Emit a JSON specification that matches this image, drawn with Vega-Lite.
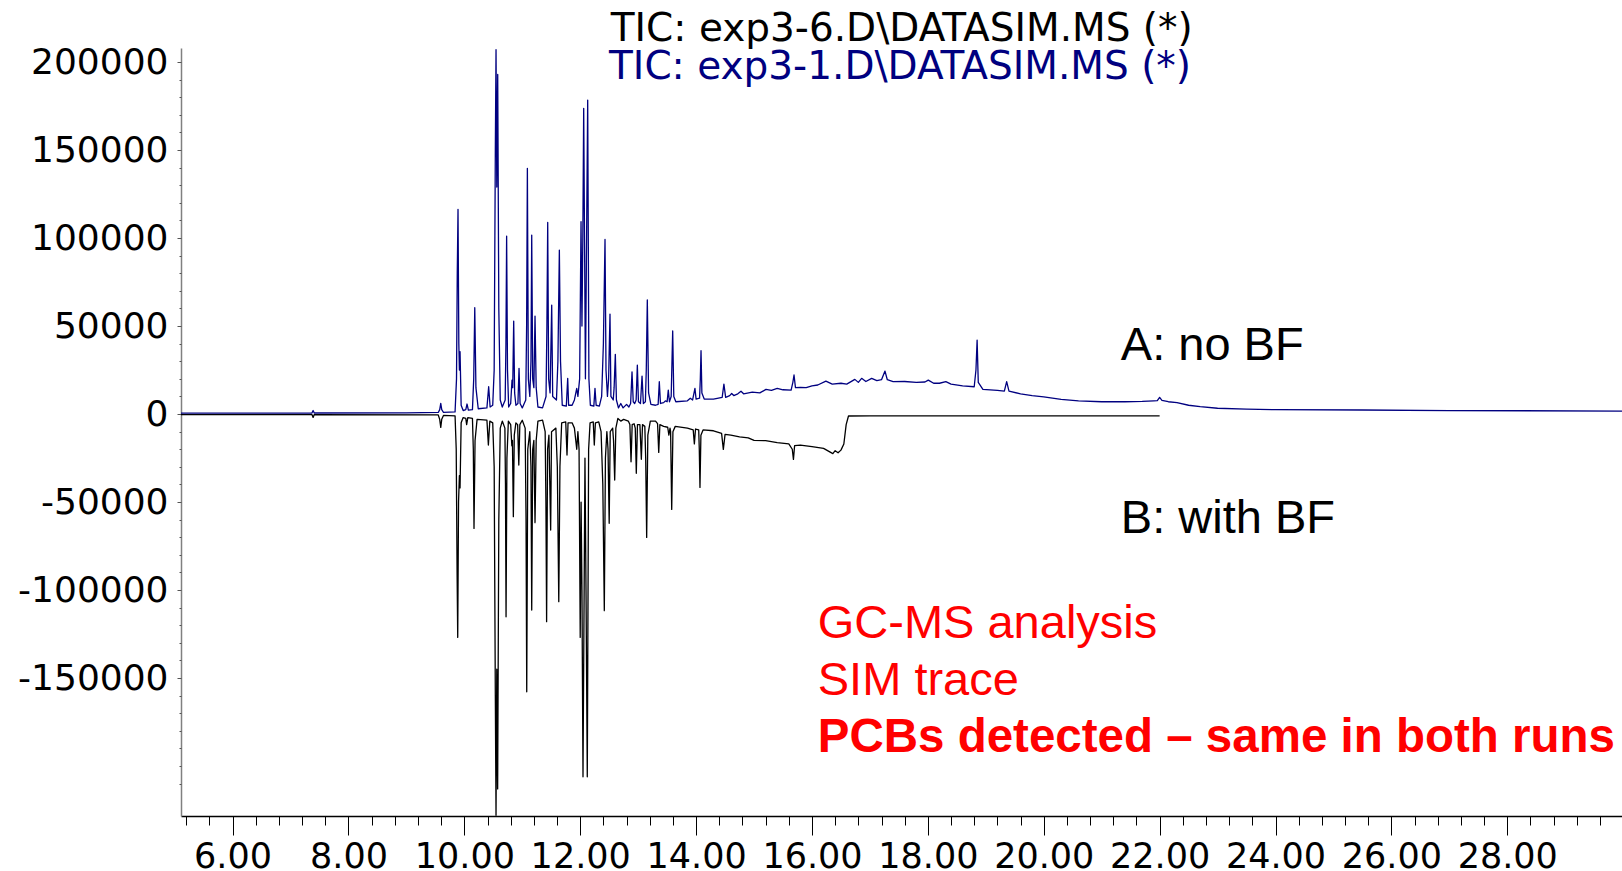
{
  "$schema": "https://vega.github.io/schema/vega-lite/v6.json",
  "width": 1441,
  "height": 768,
  "autosize": {"type": "none"},
  "padding": {"left": 181, "top": 48, "right": 0, "bottom": 55},
  "background": "white",
  "config": {"view": {"stroke": null}, "axis": {"grid": false}},
  "datasets": {
    "A": [
      {"t":5.11,"v":500},{"t":7.0,"v":500},{"t":7.37,"v":600},{"t":7.39,"v":2000},{"t":7.41,"v":600},{"t":9.0,"v":700},{"t":9.55,"v":900},{"t":9.575,"v":2500},{"t":9.593,"v":6100},{"t":9.61,"v":2500},{"t":9.64,"v":1000},{"t":9.84,"v":1200},{"t":9.865,"v":20000},{"t":9.878,"v":80000},{"t":9.891,"v":116300},{"t":9.905,"v":40000},{"t":9.915,"v":25000},{"t":9.926,"v":35400},{"t":9.945,"v":5000},{"t":9.98,"v":2000},{"t":10.025,"v":2500},{"t":10.047,"v":5700},{"t":10.07,"v":2200},{"t":10.14,"v":2500},{"t":10.162,"v":20000},{"t":10.18,"v":60400},{"t":10.2,"v":15000},{"t":10.24,"v":3000},{"t":10.39,"v":3500},{"t":10.42,"v":15500},{"t":10.445,"v":4000},{"t":10.49,"v":5000},{"t":10.515,"v":25000},{"t":10.535,"v":150000},{"t":10.547,"v":207000},{"t":10.56,"v":129000},{"t":10.576,"v":193000},{"t":10.595,"v":60000},{"t":10.62,"v":8000},{"t":10.655,"v":4000},{"t":10.705,"v":8000},{"t":10.718,"v":40000},{"t":10.73,"v":101100},{"t":10.745,"v":25000},{"t":10.765,"v":4000},{"t":10.8,"v":6000},{"t":10.823,"v":19300},{"t":10.835,"v":15000},{"t":10.852,"v":52800},{"t":10.868,"v":12000},{"t":10.89,"v":5000},{"t":10.925,"v":6000},{"t":10.944,"v":26000},{"t":10.962,"v":6000},{"t":11.0,"v":3500},{"t":11.06,"v":8000},{"t":11.075,"v":50000},{"t":11.088,"v":139600},{"t":11.105,"v":20000},{"t":11.13,"v":10000},{"t":11.15,"v":30000},{"t":11.163,"v":101700},{"t":11.18,"v":20000},{"t":11.2,"v":15000},{"t":11.22,"v":55700},{"t":11.24,"v":15000},{"t":11.27,"v":4000},{"t":11.35,"v":3500},{"t":11.41,"v":10000},{"t":11.425,"v":50000},{"t":11.439,"v":108900},{"t":11.455,"v":20000},{"t":11.48,"v":12000},{"t":11.508,"v":61900},{"t":11.525,"v":10000},{"t":11.59,"v":8000},{"t":11.615,"v":30000},{"t":11.64,"v":93200},{"t":11.66,"v":30000},{"t":11.69,"v":5000},{"t":11.76,"v":4500},{"t":11.784,"v":20300},{"t":11.8,"v":5000},{"t":11.86,"v":5000},{"t":11.9,"v":8000},{"t":11.94,"v":14600},{"t":11.96,"v":10000},{"t":11.99,"v":20000},{"t":12.014,"v":109300},{"t":12.03,"v":50000},{"t":12.045,"v":100000},{"t":12.06,"v":173700},{"t":12.09,"v":20000},{"t":12.11,"v":100000},{"t":12.129,"v":178400},{"t":12.15,"v":20000},{"t":12.175,"v":5000},{"t":12.235,"v":4500},{"t":12.255,"v":14600},{"t":12.275,"v":5000},{"t":12.33,"v":4500},{"t":12.37,"v":10000},{"t":12.4,"v":40000},{"t":12.428,"v":99200},{"t":12.445,"v":25000},{"t":12.47,"v":10000},{"t":12.49,"v":20000},{"t":12.514,"v":56800},{"t":12.53,"v":10000},{"t":12.57,"v":8000},{"t":12.585,"v":15000},{"t":12.606,"v":33900},{"t":12.625,"v":8000},{"t":12.66,"v":3500},{"t":12.7,"v":6000},{"t":12.74,"v":3500},{"t":12.8,"v":5500},{"t":12.84,"v":4000},{"t":12.87,"v":6000},{"t":12.894,"v":24000},{"t":12.915,"v":7000},{"t":12.94,"v":6000},{"t":12.965,"v":8000},{"t":12.986,"v":27800},{"t":13.005,"v":7000},{"t":13.04,"v":6000},{"t":13.067,"v":21600},{"t":13.09,"v":6000},{"t":13.125,"v":7000},{"t":13.14,"v":25000},{"t":13.158,"v":64800},{"t":13.18,"v":12000},{"t":13.22,"v":5500},{"t":13.3,"v":5000},{"t":13.345,"v":5500},{"t":13.365,"v":18400},{"t":13.385,"v":6000},{"t":13.44,"v":6500},{"t":13.47,"v":7500},{"t":13.5,"v":7000},{"t":13.52,"v":13600},{"t":13.54,"v":7000},{"t":13.57,"v":10000},{"t":13.596,"v":47200},{"t":13.615,"v":10000},{"t":13.65,"v":7000},{"t":13.85,"v":7500},{"t":13.9,"v":9000},{"t":13.94,"v":8000},{"t":13.98,"v":14600},{"t":14.0,"v":8500},{"t":14.06,"v":9000},{"t":14.073,"v":20000},{"t":14.085,"v":36000},{"t":14.1,"v":12000},{"t":14.14,"v":8500},{"t":14.3,"v":8500},{"t":14.45,"v":9500},{"t":14.48,"v":17000},{"t":14.51,"v":9500},{"t":14.58,"v":10500},{"t":14.614,"v":11700},{"t":14.65,"v":10500},{"t":14.72,"v":11500},{"t":14.775,"v":13000},{"t":14.82,"v":11500},{"t":14.97,"v":12500},{"t":15.1,"v":12000},{"t":15.206,"v":14000},{"t":15.3,"v":13500},{"t":15.4,"v":14600},{"t":15.5,"v":13800},{"t":15.64,"v":13600},{"t":15.67,"v":18000},{"t":15.69,"v":22200},{"t":15.715,"v":15000},{"t":15.8,"v":15200},{"t":15.9,"v":15000},{"t":16.0,"v":16000},{"t":16.1,"v":16500},{"t":16.24,"v":18750},{"t":16.35,"v":17000},{"t":16.5,"v":17500},{"t":16.6,"v":17000},{"t":16.74,"v":19700},{"t":16.8,"v":18000},{"t":16.857,"v":20300},{"t":16.93,"v":18500},{"t":17.03,"v":20300},{"t":17.12,"v":19000},{"t":17.2,"v":19500},{"t":17.26,"v":24400},{"t":17.3,"v":19500},{"t":17.4,"v":18400},{"t":17.6,"v":18500},{"t":17.8,"v":18000},{"t":17.95,"v":18200},{"t":18.007,"v":19300},{"t":18.1,"v":17500},{"t":18.2,"v":17500},{"t":18.31,"v":18400},{"t":18.4,"v":17000},{"t":18.6,"v":16000},{"t":18.8,"v":15500},{"t":18.83,"v":25000},{"t":18.85,"v":42000},{"t":18.87,"v":18000},{"t":18.95,"v":14000},{"t":19.2,"v":13500},{"t":19.32,"v":13000},{"t":19.36,"v":18400},{"t":19.4,"v":13000},{"t":19.6,"v":11500},{"t":19.8,"v":10500},{"t":20.0,"v":9800},{"t":20.3,"v":8300},{"t":20.6,"v":7500},{"t":21.0,"v":7000},{"t":21.4,"v":7000},{"t":21.7,"v":7200},{"t":21.9,"v":7500},{"t":21.96,"v":7600},{"t":22.0,"v":9500},{"t":22.04,"v":7800},{"t":22.15,"v":7000},{"t":22.3,"v":6500},{"t":22.5,"v":5000},{"t":22.7,"v":4200},{"t":23.0,"v":3300},{"t":23.5,"v":2800},{"t":24.0,"v":2500},{"t":25.5,"v":2300},{"t":27.0,"v":2000},{"t":29.98,"v":1700}
    ],
    "B": [
      {"t":5.11,"v":-300},{"t":7.37,"v":-300},{"t":7.39,"v":-1900},{"t":7.41,"v":-300},{"t":9.55,"v":-500},{"t":9.575,"v":-3000},{"t":9.593,"v":-7600},{"t":9.61,"v":-3000},{"t":9.64,"v":-800},{"t":9.84,"v":-1000},{"t":9.86,"v":-20000},{"t":9.875,"v":-90000},{"t":9.886,"v":-126900},{"t":9.9,"v":-50000},{"t":9.915,"v":-35000},{"t":9.926,"v":-42000},{"t":9.945,"v":-5000},{"t":9.98,"v":-2000},{"t":10.025,"v":-2500},{"t":10.04,"v":-6000},{"t":10.06,"v":-2000},{"t":10.14,"v":-2500},{"t":10.155,"v":-20000},{"t":10.167,"v":-65000},{"t":10.185,"v":-15000},{"t":10.22,"v":-3000},{"t":10.39,"v":-3500},{"t":10.415,"v":-17600},{"t":10.44,"v":-4000},{"t":10.49,"v":-5000},{"t":10.515,"v":-30000},{"t":10.535,"v":-160000},{"t":10.547,"v":-228000},{"t":10.56,"v":-145000},{"t":10.575,"v":-213000},{"t":10.595,"v":-60000},{"t":10.62,"v":-8000},{"t":10.655,"v":-4000},{"t":10.7,"v":-8000},{"t":10.71,"v":-40000},{"t":10.72,"v":-115200},{"t":10.735,"v":-25000},{"t":10.76,"v":-4000},{"t":10.8,"v":-6000},{"t":10.82,"v":-18000},{"t":10.83,"v":-15000},{"t":10.846,"v":-58300},{"t":10.862,"v":-12000},{"t":10.89,"v":-5000},{"t":10.92,"v":-6000},{"t":10.94,"v":-29000},{"t":10.958,"v":-6000},{"t":11.0,"v":-3500},{"t":11.05,"v":-8000},{"t":11.065,"v":-60000},{"t":11.077,"v":-157800},{"t":11.095,"v":-20000},{"t":11.13,"v":-10000},{"t":11.15,"v":-30000},{"t":11.163,"v":-111400},{"t":11.18,"v":-20000},{"t":11.2,"v":-15000},{"t":11.22,"v":-61700},{"t":11.24,"v":-15000},{"t":11.27,"v":-4000},{"t":11.35,"v":-3500},{"t":11.395,"v":-10000},{"t":11.408,"v":-50000},{"t":11.42,"v":-118000},{"t":11.437,"v":-20000},{"t":11.46,"v":-12000},{"t":11.49,"v":-65900},{"t":11.505,"v":-10000},{"t":11.58,"v":-8000},{"t":11.605,"v":-30000},{"t":11.63,"v":-106600},{"t":11.65,"v":-30000},{"t":11.68,"v":-5000},{"t":11.75,"v":-4500},{"t":11.772,"v":-23300},{"t":11.79,"v":-5000},{"t":11.86,"v":-5000},{"t":11.9,"v":-8000},{"t":11.94,"v":-20000},{"t":11.96,"v":-10000},{"t":11.98,"v":-20000},{"t":12.0,"v":-126900},{"t":12.015,"v":-50000},{"t":12.03,"v":-100000},{"t":12.048,"v":-206100},{"t":12.082,"v":-25000},{"t":12.1,"v":-100000},{"t":12.122,"v":-206100},{"t":12.145,"v":-20000},{"t":12.17,"v":-5000},{"t":12.225,"v":-4500},{"t":12.243,"v":-17600},{"t":12.262,"v":-5000},{"t":12.32,"v":-4500},{"t":12.36,"v":-10000},{"t":12.39,"v":-40000},{"t":12.416,"v":-111700},{"t":12.435,"v":-25000},{"t":12.46,"v":-10000},{"t":12.48,"v":-20000},{"t":12.5,"v":-62100},{"t":12.518,"v":-10000},{"t":12.56,"v":-8000},{"t":12.575,"v":-15000},{"t":12.595,"v":-37500},{"t":12.615,"v":-8000},{"t":12.65,"v":-2500},{"t":12.7,"v":-4000},{"t":12.75,"v":-3000},{"t":12.83,"v":-4000},{"t":12.857,"v":-6000},{"t":12.877,"v":-27100},{"t":12.897,"v":-6000},{"t":12.93,"v":-5500},{"t":12.95,"v":-8000},{"t":12.968,"v":-33700},{"t":12.988,"v":-6000},{"t":13.03,"v":-6000},{"t":13.055,"v":-25700},{"t":13.075,"v":-6000},{"t":13.115,"v":-7000},{"t":13.13,"v":-25000},{"t":13.147,"v":-70100},{"t":13.167,"v":-12000},{"t":13.21,"v":-4000},{"t":13.3,"v":-4000},{"t":13.335,"v":-5500},{"t":13.355,"v":-21800},{"t":13.375,"v":-6000},{"t":13.44,"v":-7000},{"t":13.51,"v":-7500},{"t":13.53,"v":-12000},{"t":13.55,"v":-8000},{"t":13.56,"v":-10000},{"t":13.579,"v":-54200},{"t":13.6,"v":-10000},{"t":13.64,"v":-7000},{"t":13.85,"v":-8000},{"t":13.95,"v":-9000},{"t":13.97,"v":-17000},{"t":13.99,"v":-8500},{"t":14.045,"v":-9000},{"t":14.055,"v":-20000},{"t":14.067,"v":-41700},{"t":14.083,"v":-12000},{"t":14.12,"v":-9000},{"t":14.3,"v":-9500},{"t":14.44,"v":-11000},{"t":14.47,"v":-20100},{"t":14.5,"v":-11500},{"t":14.6,"v":-12000},{"t":14.75,"v":-13000},{"t":14.9,"v":-13500},{"t":15.0,"v":-15000},{"t":15.2,"v":-15100},{"t":15.4,"v":-16200},{"t":15.6,"v":-17000},{"t":15.66,"v":-20000},{"t":15.68,"v":-25800},{"t":15.7,"v":-18000},{"t":15.8,"v":-17600},{"t":16.0,"v":-18500},{"t":16.2,"v":-19500},{"t":16.36,"v":-22500},{"t":16.4,"v":-20800},{"t":16.45,"v":-22000},{"t":16.5,"v":-20500},{"t":16.55,"v":-17000},{"t":16.59,"v":-6000},{"t":16.63,"v":-1100},{"t":17.0,"v":-1000},{"t":22.0,"v":-1000}
    ],
    "one": [{"k": 1}]
  },
  "layer": [
    {
      "data": {"name": "B"},
      "mark": {"type": "line", "color": "#000000", "strokeWidth": 1.3, "strokeJoin": "round"},
      "encoding": {
        "x": {"field": "t", "type": "quantitative", "scale": {"domain": [5.11, 29.98], "nice": false, "zero": false},
          "axis": {"orient": "bottom", "values": [6,8,10,12,14,16,18,20,22,24,26,28], "format": ".2f", "title": null, "grid": false,
            "labelFont": "DejaVu Sans", "labelFontSize": 35, "labelColor": "#000000", "labelPadding": 4, "labelOverlap": false, "labelFlush": false,
            "tickSize": 19, "tickColor": "#000000", "tickWidth": 1, "domainColor": "#000000", "domainWidth": 1.5}},
        "y": {"field": "v", "type": "quantitative", "scale": {"domain": [-228400, 208000], "nice": false, "zero": false},
          "axis": {"orient": "left", "values": [-150000,-100000,-50000,0,50000,100000,150000,200000], "labelExpr": "'' + datum.value", "title": null, "grid": false,
            "labelFont": "DejaVu Sans", "labelFontSize": 36, "labelColor": "#000000", "labelPadding": 9, "labelOverlap": false, "labelFlush": false,
            "tickSize": 4, "tickColor": "#555555", "tickWidth": 1, "domainColor": "#808080", "domainWidth": 1.5}}
      }
    },
    {
      "data": {"name": "A"},
      "mark": {"type": "line", "color": "#000080", "strokeWidth": 1.3, "strokeJoin": "round"},
      "encoding": {
        "x": {"field": "t", "type": "quantitative",
          "axis": {"orient": "bottom", "values": [5.2,5.6,6.0,6.4,6.8,7.2,7.6,8.0,8.4,8.8,9.2,9.6,10.0,10.4,10.8,11.2,11.6,12.0,12.4,12.8,13.2,13.6,14.0,14.4,14.8,15.2,15.6,16.0,16.4,16.8,17.2,17.6,18.0,18.4,18.8,19.2,19.6,20.0,20.4,20.8,21.2,21.6,22.0,22.4,22.8,23.2,23.6,24.0,24.4,24.8,25.2,25.6,26.0,26.4,26.8,27.2,27.6,28.0,28.4,28.8,29.2,29.6],
            "labels": false, "domain": false, "title": null, "grid": false, "tickSize": 9, "tickColor": "#000000", "tickWidth": 1}},
        "y": {"field": "v", "type": "quantitative",
          "axis": {"orient": "left", "values": [-210000,-200000,-190000,-180000,-170000,-160000,-150000,-140000,-130000,-120000,-110000,-100000,-90000,-80000,-70000,-60000,-50000,-40000,-30000,-20000,-10000,0,10000,20000,30000,40000,50000,60000,70000,80000,90000,100000,110000,120000,130000,140000,150000,160000,170000,180000,190000,200000],
            "labels": false, "domain": false, "title": null, "grid": false, "tickSize": 2, "tickColor": "#555555", "tickWidth": 1}}
      }
    },
    {
      "data": {"name": "one"},
      "mark": {"type": "text", "text": "TIC: exp3-6.D\\DATASIM.MS (*)", "font": "DejaVu Sans", "fontSize": 39, "color": "#000000", "align": "center", "baseline": "alphabetic"},
      "encoding": {"x": {"datum": 17.55, "type": "quantitative", "axis": null}, "y": {"datum": 212100, "type": "quantitative", "axis": null}}
    },
    {
      "data": {"name": "one"},
      "mark": {"type": "text", "text": "TIC: exp3-1.D\\DATASIM.MS (*)", "font": "DejaVu Sans", "fontSize": 39, "color": "#000080", "align": "center", "baseline": "alphabetic"},
      "encoding": {"x": {"datum": 17.52, "type": "quantitative", "axis": null}, "y": {"datum": 190200, "type": "quantitative", "axis": null}}
    },
    {
      "data": {"name": "one"},
      "mark": {"type": "text", "text": "A: no BF", "font": "Liberation Sans", "fontSize": 47, "color": "#000000", "align": "left", "baseline": "alphabetic"},
      "encoding": {"x": {"datum": 21.33, "type": "quantitative", "axis": null}, "y": {"datum": 30700, "type": "quantitative", "axis": null}}
    },
    {
      "data": {"name": "one"},
      "mark": {"type": "text", "text": "B: with BF", "font": "Liberation Sans", "fontSize": 47, "color": "#000000", "align": "left", "baseline": "alphabetic"},
      "encoding": {"x": {"datum": 21.33, "type": "quantitative", "axis": null}, "y": {"datum": -67800, "type": "quantitative", "axis": null}}
    },
    {
      "data": {"name": "one"},
      "mark": {"type": "text", "text": "GC-MS analysis", "font": "Liberation Sans", "fontSize": 47, "color": "#FF0000", "align": "left", "baseline": "alphabetic"},
      "encoding": {"x": {"datum": 16.1, "type": "quantitative", "axis": null}, "y": {"datum": -127300, "type": "quantitative", "axis": null}}
    },
    {
      "data": {"name": "one"},
      "mark": {"type": "text", "text": "SIM trace", "font": "Liberation Sans", "fontSize": 47, "color": "#FF0000", "align": "left", "baseline": "alphabetic"},
      "encoding": {"x": {"datum": 16.1, "type": "quantitative", "axis": null}, "y": {"datum": -159700, "type": "quantitative", "axis": null}}
    },
    {
      "data": {"name": "one"},
      "mark": {"type": "text", "text": "PCBs detected – same in both runs", "font": "Liberation Sans", "fontSize": 47.5, "fontWeight": "bold", "color": "#FF0000", "align": "left", "baseline": "alphabetic"},
      "encoding": {"x": {"datum": 16.1, "type": "quantitative", "axis": null}, "y": {"datum": -192000, "type": "quantitative", "axis": null}}
    }
  ],
  "resolve": {"axis": {"x": "independent", "y": "independent"}}
}
